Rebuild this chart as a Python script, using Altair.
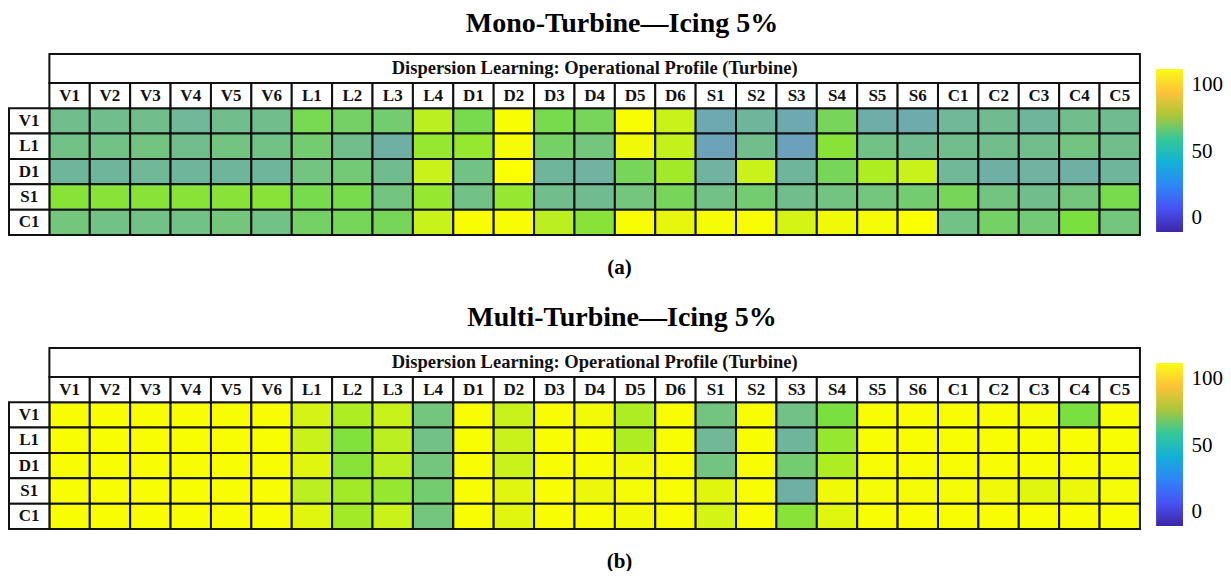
import altair as alt
import pandas as pd

# Operational-profile columns and the learning rows
COLUMNS = ["V1", "V2", "V3", "V4", "V5", "V6",
           "L1", "L2", "L3", "L4",
           "D1", "D2", "D3", "D4", "D5", "D6",
           "S1", "S2", "S3", "S4", "S5", "S6",
           "C1", "C2", "C3", "C4", "C5"]
ROWS = ["V1", "L1", "D1", "S1", "C1"]

# Mono-turbine accuracy (%), one list per learning row
MONO_V1 = [63, 63, 63, 61, 63, 63, 73, 70, 68, 86, 74, 98, 74, 72, 98, 88,
           55, 60, 55, 72, 57, 56, 61, 62, 60, 63, 62]
MONO_L1 = [64, 64, 65, 63, 65, 64, 68, 63, 58, 80, 80, 97, 70, 66, 95, 87,
           52, 63, 51, 78, 64, 62, 63, 63, 63, 65, 63]
MONO_D1 = [60, 60, 61, 60, 60, 60, 65, 67, 62, 88, 64, 99, 60, 59, 72, 82,
           59, 88, 60, 72, 84, 88, 61, 58, 59, 58, 60]
MONO_S1 = [78, 78, 78, 78, 78, 78, 74, 74, 65, 80, 64, 80, 63, 62, 66, 72,
           64, 68, 63, 65, 66, 68, 72, 65, 63, 66, 74]
MONO_C1 = [66, 64, 64, 64, 66, 64, 70, 72, 72, 88, 98, 98, 86, 78, 98, 93,
           97, 98, 90, 95, 97, 99, 64, 70, 67, 76, 66]

# Multi-turbine accuracy (%)
MULTI_V1 = [98, 98, 98, 98, 98, 98, 90, 84, 88, 66, 98, 88, 98, 96, 84, 98,
            65, 98, 64, 76, 98, 98, 98, 98, 97, 76, 98]
MULTI_L1 = [98, 98, 98, 98, 98, 98, 88, 77, 86, 64, 98, 88, 98, 98, 84, 98,
            61, 98, 60, 80, 98, 98, 98, 98, 98, 98, 98]
MULTI_D1 = [98, 98, 98, 98, 98, 98, 92, 78, 86, 66, 98, 88, 98, 98, 95, 98,
            65, 98, 68, 84, 98, 98, 98, 98, 98, 98, 98]
MULTI_S1 = [98, 98, 98, 98, 98, 98, 86, 82, 80, 68, 98, 92, 98, 94, 97, 98,
            92, 98, 58, 95, 97, 97, 97, 95, 92, 94, 97]
MULTI_C1 = [98, 98, 98, 98, 98, 98, 92, 82, 88, 66, 98, 92, 98, 98, 96, 98,
            90, 98, 78, 92, 98, 98, 98, 98, 98, 98, 98]

HEADER = "Dispersion Learning: Operational Profile  (Turbine)"

FONT = "Liberation Serif"
CELL_STOPS = [0, 50, 55, 60, 64, 70, 76, 82, 88, 94, 100]
CELL_COLORS = ["#3e26a8", "#6c9fbe", "#6ea9b0", "#6fb59c", "#72c186",
               "#75d166", "#7ae040", "#a2ea28", "#c8f21a", "#ecf80a", "#ffff00"]
PARULA = ["#3e26a8", "#4852f4", "#2e87f7", "#12b1d6",
          "#37c897", "#abc739", "#fec338", "#f9fb15"]

# layout of the grid in column/row units
X_MAX = 28.066          # right edge of the colour bar
HDR_TOP = -2.14         # top of the header strip
CB_X = (27.40, 28.066)  # colour bar span
CB_DOMAIN = [-12.8, 123.3]
CB_SPAN = (-10.5, 112.0)


def panel(rows_values, title, caption):
    recs = []
    for j, (r, vals) in enumerate(zip(ROWS, rows_values)):
        for i, (c, v) in enumerate(zip(COLUMNS, vals)):
            recs.append(dict(row=r, col=c, value=v,
                             x0=i, x1=i + 1, y0=j, y1=j + 1))
    cells = pd.DataFrame(recs)
    cols = pd.DataFrame([dict(label=c, x0=i, x1=i + 1, xm=i + 0.5,
                              y0=-1, y1=0, ym=-0.5)
                         for i, c in enumerate(COLUMNS)])
    rows = pd.DataFrame([dict(label=r, x0=-1, x1=0, xm=-0.5,
                              y0=j, y1=j + 1, ym=j + 0.5)
                         for j, r in enumerate(ROWS)])
    head = pd.DataFrame([dict(label=HEADER, x0=0, x1=len(COLUMNS),
                              xm=len(COLUMNS) / 2, y0=HDR_TOP, y1=-1,
                              ym=(HDR_TOP - 1) / 2)])

    xs = alt.Scale(domain=[-1, X_MAX], nice=False, zero=False)
    ys = alt.Scale(domain=[HDR_TOP, 5], reverse=True, nice=False, zero=False)
    # the bottom x axis carries only the sub-figure caption
    xaxis = alt.Axis(title=caption, labels=False, ticks=False,
                     domain=False, grid=False, titleFont=FONT,
                     titleFontSize=21, titleFontWeight="bold",
                     titleColor="black", titlePadding=21,
                     titleX=610, titleAlign="center")

    heat = alt.Chart(cells).mark_rect(stroke="#111111", strokeWidth=2).encode(
        x=alt.X("x0:Q", scale=xs, axis=xaxis),
        x2="x1",
        y=alt.Y("y0:Q", scale=ys, axis=None),
        y2="y1",
        color=alt.Color("value:Q",
                        scale=alt.Scale(domain=CELL_STOPS, range=CELL_COLORS,
                                        interpolate="rgb"),
                        legend=None),
        tooltip=["row", "col", "value"],
    )

    def boxes(df):
        return alt.Chart(df).mark_rect(fill="white", stroke="#111111",
                                       strokeWidth=2).encode(
            x=alt.X("x0:Q", scale=xs, axis=xaxis), x2="x1",
            y=alt.Y("y0:Q", scale=ys, axis=None), y2="y1")

    def labels(df, size):
        return alt.Chart(df).mark_text(font=FONT, fontWeight="bold",
                                       fontSize=size, color="#111111",
                                       baseline="middle").encode(
            x=alt.X("xm:Q", scale=xs, axis=xaxis),
            y=alt.Y("ym:Q", scale=ys, axis=None),
            text="label:N")

    grid = alt.layer(heat, boxes(cols), labels(cols, 17),
                     boxes(rows), labels(rows, 17),
                     boxes(head), labels(head, 18.5))

    cb = pd.DataFrame([dict(x0=CB_X[0], x1=CB_X[1], v0=CB_SPAN[0], v1=CB_SPAN[1])])
    n = len(PARULA) - 1
    gradient = alt.LinearGradient(
        gradient="linear",
        stops=[alt.GradientStop(offset=k / n, color=c) for k, c in enumerate(PARULA)],
        x1=0, x2=0, y1=1, y2=0)
    cbar = alt.Chart(cb).mark_rect(color=gradient).encode(
        x=alt.X("x0:Q", scale=xs, axis=xaxis), x2="x1",
        y=alt.Y("v0:Q", scale=alt.Scale(domain=CB_DOMAIN, nice=False, zero=False),
                axis=alt.Axis(orient="right", values=[0, 50, 100], ticks=False,
                              domain=False, grid=False, labelFont=FONT,
                              labelFontSize=21, labelColor="black",
                              labelPadding=8, title=None)),
        y2="v1")

    return alt.layer(grid, cbar).resolve_scale(y="independent").properties(
        width=1174, height=181,
        title=alt.TitleParams(text=title, font=FONT, fontSize=28,
                              fontWeight="bold", color="black",
                              anchor="middle", dx=26, offset=15,
                              frame="group"))


top = panel([MONO_V1, MONO_L1, MONO_D1, MONO_S1, MONO_C1],
            "Mono-Turbine\u2014Icing 5%", "(a)")
bottom = panel([MULTI_V1, MULTI_L1, MULTI_D1, MULTI_S1, MULTI_C1],
               "Multi-Turbine\u2014Icing 5%", "(b)")

chart = alt.vconcat(top, bottom, spacing=27).properties(
    padding={"left": 8, "top": 10, "right": 0, "bottom": 0},
    background="white",
).configure_view(stroke=None)

chart.save("out.html", embed_options={"renderer": "svg", "actions": False})
